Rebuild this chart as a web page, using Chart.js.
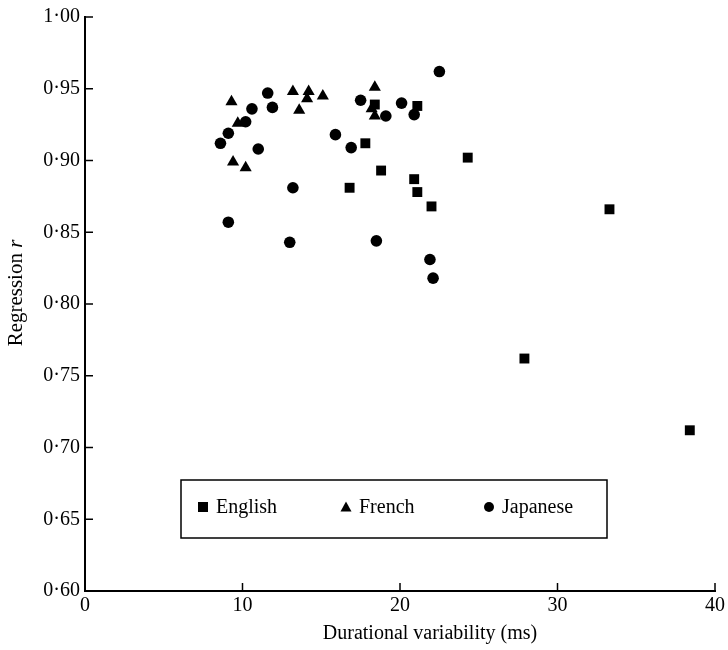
<!DOCTYPE html>
<html>
<head>
<meta charset="utf-8">
<script src="https://cdn.jsdelivr.net/npm/chart.js@4/dist/chart.umd.min.js"></script>
<style>
  body { margin: 0; background: #fff; }
  #wrap { width: 728px; height: 650px; }
</style>
</head>
<body>
<div id="wrap"><canvas id="chart" width="728" height="650"></canvas></div>
<script>
// values
const englishX = [16.8, 17.8, 18.4, 18.8, 21.1, 20.9, 21.1, 22.0, 24.3, 33.3, 27.9, 38.4];
const englishR = [0.881, 0.912, 0.939, 0.893, 0.938, 0.887, 0.878, 0.868, 0.902, 0.866, 0.762, 0.712];

const frenchX = [9.3, 9.4, 9.7, 10.2, 13.2, 13.6, 14.2, 14.1, 15.1, 18.4, 18.2, 18.4];
const frenchR = [0.941, 0.899, 0.926, 0.895, 0.948, 0.935, 0.948, 0.943, 0.945, 0.951, 0.936, 0.931];

const japaneseX = [8.6, 9.1, 9.1, 10.2, 10.6, 11.0, 11.6, 11.9, 13.2, 13.0, 15.9, 16.9, 17.5, 19.1, 20.1, 20.9, 18.5, 21.9, 22.1, 22.5];
const japaneseR = [0.912, 0.919, 0.857, 0.927, 0.936, 0.908, 0.947, 0.937, 0.881, 0.843, 0.918, 0.909, 0.942, 0.931, 0.940, 0.932, 0.844, 0.831, 0.818, 0.962];

const xTicks = [0, 10, 20, 30, 40];
const yTicks = [0.60, 0.65, 0.70, 0.75, 0.80, 0.85, 0.90, 0.95, 1.00];

const languages = ["English", "French", "Japanese"];

function toPoints(xs, ys) {
  return xs.map((x, i) => ({ x: x, y: ys[i] }));
}

const serif = "'Liberation Serif', 'DejaVu Serif', serif";

// ticks point into the plot
const insideTicks = {
  id: "insideTicks",
  afterDraw(chart) {
    const ctx = chart.ctx;
    const xs = chart.scales.x, ys = chart.scales.y;
    ctx.save();
    ctx.strokeStyle = "#000";
    ctx.lineWidth = 1.5;
    xTicks.forEach((t) => {
      const px = xs.getPixelForValue(t);
      ctx.beginPath();
      ctx.moveTo(px, xs.top);
      ctx.lineTo(px, xs.top - 8);
      ctx.stroke();
    });
    yTicks.forEach((t) => {
      const py = ys.getPixelForValue(t);
      ctx.beginPath();
      ctx.moveTo(ys.right, py);
      ctx.lineTo(ys.right + 8, py);
      ctx.stroke();
    });
    ctx.restore();
  },
};

// axis titles: "Regression r" with italic r, x title a bit right of centre
const axisTitles = {
  id: "axisTitles",
  afterDraw(chart) {
    const ctx = chart.ctx;
    ctx.save();
    ctx.fillStyle = "#000";
    ctx.textBaseline = "middle";

    ctx.font = "20px " + serif;
    ctx.textAlign = "center";
    ctx.fillText("Durational variability (ms)", 430, 634);

    const a = "Regression ", b = "r";
    ctx.textAlign = "left";
    ctx.translate(16, 293);
    ctx.rotate(-Math.PI / 2);
    ctx.font = "21px " + serif;
    const wa = ctx.measureText(a).width;
    ctx.font = "italic 21px " + serif;
    const wb = ctx.measureText(b).width;
    const start = -(wa + wb) / 2;
    ctx.font = "21px " + serif;
    ctx.fillText(a, start, 0);
    ctx.font = "italic 21px " + serif;
    ctx.fillText(b, start + wa, 0);
    ctx.restore();
  },
};

// boxed legend inside the plot
const boxLegend = {
  id: "boxLegend",
  afterDraw(chart) {
    const ctx = chart.ctx;
    ctx.save();
    ctx.strokeStyle = "#000";
    ctx.lineWidth = 1.5;
    ctx.strokeRect(181, 480, 426, 58);
    const cy = 507;
    const markX = [203, 346, 489];
    ctx.fillStyle = "#000";
    ctx.font = "20px " + serif;
    ctx.textBaseline = "middle";
    languages.forEach((name, i) => {
      const mx = markX[i];
      ctx.beginPath();
      if (i === 0) {
        ctx.rect(mx - 5, cy - 5, 10, 10);
      } else if (i === 1) {
        ctx.moveTo(mx, cy - 5.5);
        ctx.lineTo(mx + 5.5, cy + 4.5);
        ctx.lineTo(mx - 5.5, cy + 4.5);
        ctx.closePath();
      } else {
        ctx.arc(mx, cy, 5, 0, Math.PI * 2);
      }
      ctx.fill();
      ctx.fillText(name, mx + 13, cy + 1);
    });
    ctx.restore();
  },
};

const ctx = document.getElementById("chart").getContext("2d");

new Chart(ctx, {
  type: "scatter",
  data: {
    datasets: [
      {
        label: languages[0],
        data: toPoints(englishX, englishR),
        pointStyle: "rect",
        pointRadius: 7,
        backgroundColor: "#000",
        borderWidth: 0,
      },
      {
        label: languages[1],
        data: toPoints(frenchX, frenchR),
        pointStyle: "triangle",
        pointRadius: 7,
        backgroundColor: "#000",
        borderWidth: 0,
      },
      {
        label: languages[2],
        data: toPoints(japaneseX, japaneseR),
        pointStyle: "circle",
        pointRadius: 5.8,
        backgroundColor: "#000",
        borderWidth: 0,
      },
    ],
  },
  options: {
    responsive: false,
    animation: false,
    devicePixelRatio: 1,
    layout: { padding: { top: 12, right: 11, left: 0, bottom: 0 } },
    plugins: {
      legend: { display: false },
      tooltip: { enabled: false },
    },
    scales: {
      x: {
        type: "linear",
        min: 0,
        max: 40,
        afterBuildTicks: (s) => { s.ticks = xTicks.map((v) => ({ value: v })); },
        afterFit: (s) => { s.height = 59; },
        grid: { display: false, drawTicks: false },
        border: { display: true, color: "#000", width: 2 },
        ticks: {
          color: "#000",
          padding: 3,
          font: { family: serif, size: 20 },
          callback: (v) => String(v),
        },
      },
      y: {
        type: "linear",
        min: 0.6,
        max: 1.0,
        afterBuildTicks: (s) => { s.ticks = yTicks.map((v) => ({ value: v })); },
        afterFit: (s) => { s.width = 85; },
        grid: { display: false, drawTicks: false },
        border: { display: true, color: "#000", width: 2 },
        ticks: {
          color: "#000",
          padding: 5,
          font: { family: serif, size: 20 },
          callback: (v) => Number(v).toFixed(2).replace(".", "\u00b7"),
        },
      },
    },
  },
  plugins: [insideTicks, axisTitles, boxLegend],
});
</script>
</body>
</html>
